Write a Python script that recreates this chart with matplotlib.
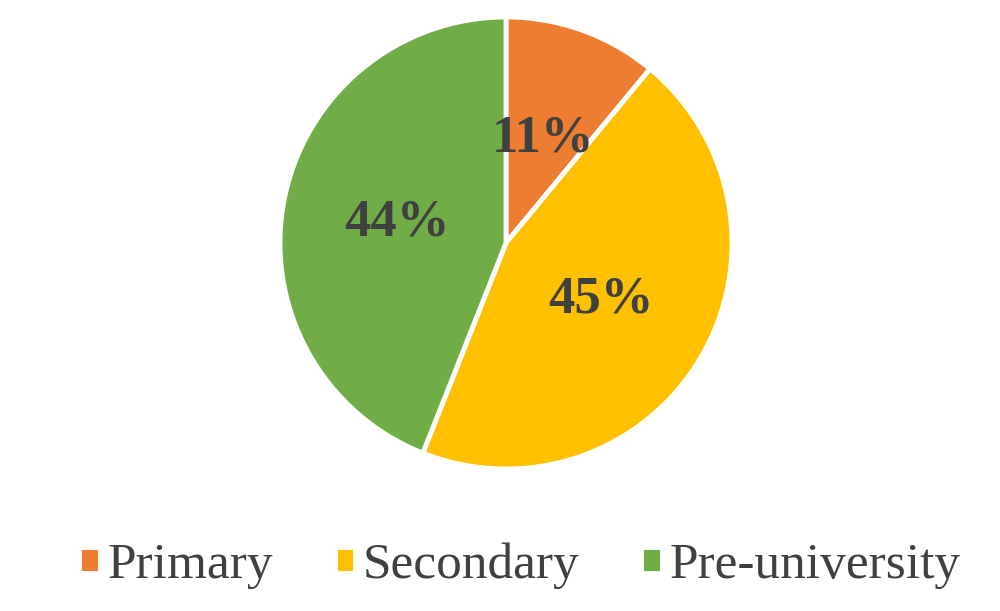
import matplotlib.pyplot as plt

levels = ['Primary', 'Secondary', 'Pre-university']
shares = [11, 45, 44]
colors = ['#ED7D31', '#FFC000', '#70AD47']

plt.rcParams['font.family'] = ['Liberation Serif', 'DejaVu Serif']

fig = plt.figure(figsize=(10, 6.11), dpi=100)
ax = fig.add_axes([0.280, 142 / 611, 0.452, 452 / 611])

wedges, texts, autotexts = ax.pie(
    shares, colors=colors, startangle=90, counterclock=False,
    autopct='%d%%', pctdistance=0.49,
    wedgeprops=dict(edgecolor='white', linewidth=3.5),
    textprops=dict(fontsize=38, fontweight='bold', color='#404040'))
ax.set_xlim(-1.0, 1.0)
ax.set_ylim(-1.0, 1.0)

fig.legend(wedges, levels, loc='center', bbox_to_anchor=(0.52, 1 - 566 / 611),
           ncol=3, frameon=False, fontsize=37, labelcolor='#404040',
           handlelength=0.4, handleheight=0.4, handletextpad=0.15,
           columnspacing=1.2)

fig.savefig('out.png', dpi=100)
